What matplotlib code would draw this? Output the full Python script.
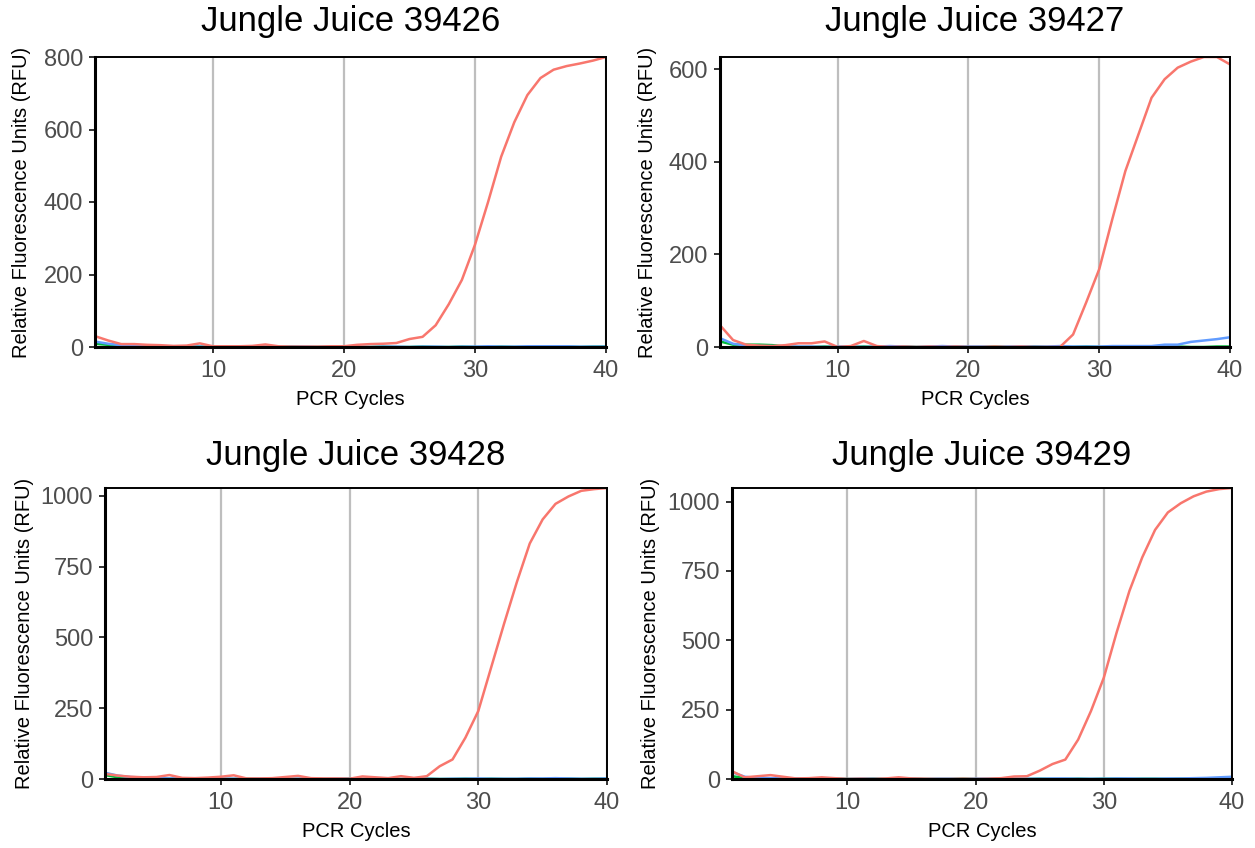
import matplotlib
matplotlib.use("Agg")
import matplotlib.pyplot as plt

plt.rcParams['font.family'] = ['Liberation Sans', 'DejaVu Sans']

cycles = list(range(1, 41))

titles = ["Jungle Juice 39426", "Jungle Juice 39427", "Jungle Juice 39428", "Jungle Juice 39429"]

# Panel 1 (39426)
red_1 = [30, 18, 8, 8, 6, 5, 3, 4, 10, 2, 2, 2, 3, 7, 2, 1, 1, 1, 2, 2,
         6, 8, 9, 11, 22, 28, 60, 118, 185, 282, 400, 525, 620, 695, 742, 765, 775, 782, 790, 800]
green_1 = [9, 6, 5, 4, 3, 2, 1, 1, 1, 0, 0, 1, 1, 0, 0, 1, 0, 0, 0, 1,
           0, 0, 1, 0, 0, 1, 0, 0, 1, 0, 0, 1, 0, 0, 1, 1, 1, 0, 1, 1]
blue_1 = [15, 9, 5, 4, 3, 2, 2, 1, 1, 0, 1, 2, 1, 1, 0, 1, 1, 0, 1, 0,
          1, 0, 1, 1, 0, 1, 1, 0, 1, 1, 2, 1, 1, 2, 2, 2, 2, 1, 1, 1]

# Panel 2 (39427)
red_2 = [47, 15, 5, 3, 2, 4, 8, 8, 12, 0, 2, 13, 2, 0, 1, 0, 1, 0, 1, 0,
         0, 1, 0, 1, 0, 0, 0, 27, 96, 168, 276, 380, 459, 538, 578, 603, 616, 626, 626, 610]
green_2 = [12, 5, 5, 5, 4, 1, 0, 0, 1, 0, 0, 1, 0, 0, 1, 0, 0, 0, 1, 0,
           0, 1, 0, 0, 1, 0, 0, 0, 1, 0, 0, 0, 1, 0, 0, 1, 0, 0, 1, 1]
blue_2 = [19, 7, 3, 2, 2, 1, 1, 1, 0, 1, 1, 0, 1, 2, 1, 0, 1, 2, 1, 1,
          1, 0, 1, 1, 1, 1, 2, 1, 1, 1, 2, 2, 2, 2, 5, 5, 11, 14, 17, 21]

# Panel 3 (39428)
red_3 = [18, 12, 8, 6, 7, 14, 4, 3, 5, 8, 13, 2, 2, 3, 7, 11, 3, 2, 2, 1,
         9, 6, 3, 10, 4, 10, 45, 69, 146, 240, 394, 548, 696, 832, 917, 972, 998, 1018, 1024, 1028]
green_3 = [14, 6, 4, 3, 2, 1, 1, 0, 1, 0, 0, 1, 0, 1, 0, 0, 1, 0, 0, 1,
           0, 0, 1, 0, 0, 1, 0, 0, 1, 0, 1, 0, 0, 1, 0, 1, 1, 0, 1, 1]
blue_3 = [22, 12, 7, 5, 3, 2, 2, 1, 1, 1, 1, 0, 1, 1, 0, 1, 1, 0, 1, 1,
          0, 1, 1, 0, 2, 1, 0, 1, 1, 2, 1, 1, 1, 2, 2, 3, 2, 1, 1, 2]

# Panel 4 (39429)
red_4 = [28, 6, 10, 14, 8, 2, 3, 6, 3, 0, 1, 0, 2, 6, 2, 1, 0, 0, 1, 0,
         1, 3, 9, 10, 30, 54, 70, 142, 245, 365, 528, 678, 799, 898, 961, 994, 1019, 1036, 1045, 1049]
green_4 = [10, 4, 3, 2, 1, 1, 0, 0, 1, 0, 0, 1, 0, 0, 1, 0, 0, 0, 1, 0,
           0, 1, 0, 0, 1, 0, 0, 1, 0, 1, 1, 0, 1, 1, 0, 1, 1, 1, 1, 2]
blue_4 = [25, 8, 4, 3, 2, 2, 1, 1, 1, 0, 1, 1, 0, 1, 1, 0, 1, 1, 0, 1,
          1, 0, 1, 1, 1, 2, 2, 1, 1, 1, 2, 2, 1, 1, 2, 2, 3, 4, 6, 8]

y_ticks = [[0, 200, 400, 600, 800], [0, 200, 400, 600],
           [0, 250, 500, 750, 1000], [0, 250, 500, 750, 1000]]
x_ticks = [10, 20, 30, 40]

panels = [(red_1, green_1, blue_1), (red_2, green_2, blue_2),
          (red_3, green_3, blue_3), (red_4, green_4, blue_4)]

W, H = 1255, 848
# pixel boxes: left, right, top, bottom
boxes = [(95, 606, 57, 347), (720, 1230, 57, 347),
         (105, 607, 488, 779), (732, 1232, 488, 779)]
ylabel_x = [31, 657, 34, 660]
title_y = [22, 22, 455, 455]

colors = ['#F8766D', '#00BA38', '#619CFF']

fig = plt.figure(figsize=(W / 100, H / 100), dpi=100)

for i, ((l, r, t, b), data) in enumerate(zip(boxes, panels)):
    ax = fig.add_axes([l / W, (H - b) / H, (r - l) / W, (b - t) / H])
    for xv in x_ticks:
        ax.axvline(xv, color='#BEBEBE', lw=1.6, zorder=1)
    ax.plot(cycles, data[1], color=colors[1], lw=1.8, zorder=2)
    ax.plot(cycles, data[2], color=colors[2], lw=1.8, zorder=2)
    ax.plot(cycles, data[0], color=colors[0], lw=1.8, zorder=2)
    allv = data[0] + data[1] + data[2]
    ax.set_xlim(1, 40)
    ax.set_ylim(min(allv), max(allv))
    ax.set_xticks(x_ticks)
    ax.set_yticks(y_ticks[i])
    ax.tick_params(axis='both', labelsize=17, colors='#333333', labelcolor='#4D4D4D',
                   length=4.5, width=1.4)
    ax.tick_params(axis='y', pad=4)
    ax.tick_params(axis='x', pad=5)
    for s in ['left', 'bottom']:
        ax.spines[s].set_linewidth(2.2)
        ax.spines[s].set_color('black')
    for s in ['top', 'right']:
        ax.spines[s].set_linewidth(1.4)
        ax.spines[s].set_color('black')
    ax.set_xlabel('PCR Cycles', fontsize=14.5, color='black')
    ax.set_ylabel('Relative Fluorescence Units (RFU)', fontsize=14.5, color='black')
    ax.xaxis.set_label_coords(0.5, -43 / (b - t))
    ax.yaxis.set_label_coords((ylabel_x[i] - l) / (r - l), 0.5)
    fig.text((l + r) / 2 / W, 1 - title_y[i] / H, titles[i], ha='center', va='center',
             fontsize=25, color='black')

fig.savefig('out.png', dpi=100)
